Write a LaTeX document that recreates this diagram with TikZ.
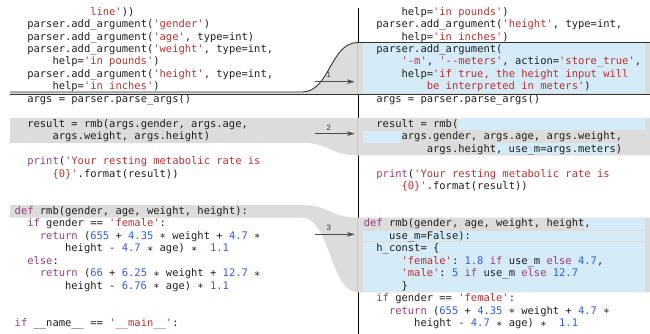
\documentclass[tikz,border=0pt]{standalone}
\usepackage{fontspec}
\setmonofont{DejaVu Sans Mono}
\newfontfamily\labelfont{Liberation Sans}
\usepackage{xcolor}
\usetikzlibrary{arrows.meta}

\definecolor{codeblack}{HTML}{1E1E1E}
\definecolor{kwcolor}{HTML}{9C3B7C}
\definecolor{strcolor}{HTML}{B8312F}
\definecolor{numcolor}{HTML}{2F5CE8}
\definecolor{hunkgrey}{HTML}{DCDCDC}
\definecolor{addblue}{HTML}{D5EBF8}

\newcommand{\kwd}[1]{\textcolor{kwcolor}{#1}}
\newcommand{\strg}[1]{\textcolor{strcolor}{#1}}
\newcommand{\numb}[1]{\textcolor{numcolor}{#1}}
\newcommand{\mulop}{\raisebox{-2.6pt}{*}}

\tikzset{
    codeline/.style={anchor=base west, inner sep=0pt, text=codeblack,
        font=\ttfamily\fontsize{10.47}{12.45}\selectfont},
    numlabel/.style={font=\labelfont\fontsize{7.8}{8}\selectfont, text=black!80, inner sep=3pt},
    diffarrow/.style={draw=black!70, line width=1.4pt, -{Stealth[length=7.5pt,width=4.8pt]}},
    hunk/.style={fill=hunkgrey},
    added/.style={fill=addblue},
    hunkline/.style={draw=black!80, line width=0.9pt}
}

\begin{document}
\begin{tikzpicture}[x=1pt, y=-1pt]
    \useasboundingbox (0,0) rectangle (650,334);

    % divider between old and new
    \draw[black, line width=0.8pt] (358,8) -- (358,334);

    % hunk 1: insertion
    \fill[hunk] (10,92) -- (302,92) .. controls (330,92) and (330,42.5) .. (358,42.5)
        -- (650,42.5) -- (650,94.2) -- (10,94.2) -- cycle;
    \fill[added] (363,43.3) rectangle (645,93.1);
    \draw[hunkline] (10,92) -- (302,92) .. controls (330,92) and (330,42.5) .. (358,42.5) -- (650,42.5);
    \draw[hunkline] (10,94.2) -- (650,94.2);

    % hunk 2
    \fill[hunk] (10,118) -- (650,118) -- (650,155.35) -- (358,155.35)
        .. controls (330,155.35) and (330,142.9) .. (302,142.9) -- (10,142.9) -- cycle;
    \fill[added] (458.1,118.3) rectangle (645,130.2);
    \fill[added] (363,130.9) rectangle (401.4,142.7);
    \fill[added] (495.9,143.3) rectangle (615.6,154.3);

    % hunk 3
    \fill[hunk] (10,205.15) -- (302,205.15) .. controls (330,205.15) and (330,217.6) .. (358,217.6)
        -- (650,217.6) -- (650,292.3) -- (358,292.3)
        .. controls (330,292.3) and (330,217.6) .. (302,217.6) -- (10,217.6) -- cycle;
    \fill[added] (584.1,217.8) rectangle (645,229.6);
    \fill[added] (363,230.6) rectangle (645,241.2);
    \fill[added] (363,242.4) rectangle (645,291.8);

    \draw[black!22, line width=0.8pt] (357.6,43) -- (357.6,93.7);
    \draw[black!22, line width=0.8pt] (357.6,118) -- (357.6,155.35);
    \draw[black!22, line width=0.8pt] (357.6,217.6) -- (357.6,292.3);

    % arrows
    \coordinate (a1s) at (314.5,81.7);
    \coordinate (a1e) at (354.5,81.7);
    \coordinate (a2s) at (314.5,133.7);
    \coordinate (a2e) at (354.5,133.7);
    \coordinate (a3s) at (314.5,234.3);
    \coordinate (a3e) at (354.5,234.3);
    \draw[diffarrow] (a1s) -- node[numlabel, pos=0.36, above] (n1) {1} (a1e);
    \draw[diffarrow] (a2s) -- node[numlabel, pos=0.36, above] (n2) {2} (a2e);
    \draw[diffarrow] (a3s) -- node[numlabel, pos=0.36, above] (n3) {3} (a3e);

    % old code
    \node[codeline] (l0) at (90.1,15.2) {\strg{line'}))};
    \node[codeline] (l1) at (27.1,27.65) {parser.add\_argument(\strg{'gender'})};
    \node[codeline] (l2) at (27.1,40.1) {parser.add\_argument(\strg{'age'}, type=int)};
    \node[codeline] (l3) at (27.1,52.55) {parser.add\_argument(\strg{'weight'}, type=int,};
    \node[codeline] (l4) at (52.3,65.0) {help=\strg{'in pounds'})};
    \node[codeline] (l5) at (27.1,77.45) {parser.add\_argument(\strg{'height'}, type=int,};
    \node[codeline] (l6) at (52.3,89.9) {help=\strg{'in inches'})};
    \node[codeline] (l7) at (27.1,102.35) {args = parser.parse\_args()};
    \node[codeline] (l9) at (27.1,127.25) {result = rmb(args.gender, args.age,};
    \node[codeline] (l10) at (52.3,139.7) {args.weight, args.height)};
    \node[codeline] (l12) at (27.1,164.6) {\kwd{print}(\strg{'Your resting metabolic rate is}};
    \node[codeline] (l13) at (52.3,177.05) {\strg{\{0\}'}.format(result))};
    \node[codeline] (l16) at (14.5,214.4) {\kwd{def} rmb(gender, age, weight, height):};
    \node[codeline] (l17) at (27.1,226.85) {\kwd{if} gender == \strg{'female'}:};
    \node[codeline] (l18) at (39.7,239.3) {\kwd{return} (\numb{655} + \numb{4.35} \mulop{} weight + \numb{4.7} \mulop};
    \node[codeline] (l19) at (64.9,251.75) {height - \numb{4.7} \mulop{} age) \mulop{} ~\numb{1.1}};
    \node[codeline] (l20) at (27.1,264.2) {\kwd{else}:};
    \node[codeline] (l21) at (39.7,276.65) {\kwd{return} (\numb{66} + \numb{6.25} \mulop{} weight + \numb{12.7} \mulop};
    \node[codeline] (l22) at (64.9,289.1) {height - \numb{6.76} \mulop{} age) \mulop{} \numb{1.1}};
    \node[codeline] (l25) at (14.5,326.45) {\kwd{if} \_\_name\_\_ == \strg{'\_\_main\_\_'}:};

    % new code
    \node[codeline] (r0) at (401.4,15.2) {help=\strg{'in pounds'})};
    \node[codeline] (r1) at (376.2,27.65) {parser.add\_argument(\strg{'height'}, type=int,};
    \node[codeline] (r2) at (401.4,40.1) {help=\strg{'in inches'})};
    \node[codeline] (r3) at (376.2,52.55) {parser.add\_argument(};
    \node[codeline] (r4) at (401.4,65.0) {\strg{'-m'}, \strg{'--meters'}, action=\strg{'store\_true'},};
    \node[codeline] (r5) at (401.4,77.45) {help=\strg{'if true, the height input will}};
    \node[codeline] (r6) at (426.6,89.9) {\strg{be interpreted in meters'})};
    \node[codeline] (r7) at (376.2,102.35) {args = parser.parse\_args()};
    \node[codeline] (r9) at (376.2,127.25) {result = rmb(};
    \node[codeline] (r10) at (401.4,139.7) {args.gender, args.age, args.weight,};
    \node[codeline] (r11) at (426.6,152.15) {args.height, use\_m=args.meters)};
    \node[codeline] (r13) at (376.2,177.05) {\kwd{print}(\strg{'Your resting metabolic rate is}};
    \node[codeline] (r14) at (401.4,189.5) {\strg{\{0\}'}.format(result))};
    \node[codeline] (r17) at (363.6,226.85) {\kwd{def} rmb(gender, age, weight, height,};
    \node[codeline] (r18) at (388.8,239.3) {use\_m=False):};
    \node[codeline] (r19) at (376.2,251.75) {h\_const= \{};
    \node[codeline] (r20) at (401.4,264.2) {\strg{'female'}: \numb{1.8} \kwd{if} use\_m \kwd{else} \numb{4.7},};
    \node[codeline] (r21) at (401.4,276.65) {\strg{'male'}: \numb{5} \kwd{if} use\_m \kwd{else} \numb{12.7}};
    \node[codeline] (r22) at (401.4,289.1) {\}};
    \node[codeline] (r23) at (376.2,301.55) {\kwd{if} gender == \strg{'female'}:};
    \node[codeline] (r24) at (388.8,314.0) {\kwd{return} (\numb{655} + \numb{4.35} \mulop{} weight + \numb{4.7} \mulop};
    \node[codeline] (r25) at (414.0,326.45) {height - \numb{4.7} \mulop{} age) \mulop{} ~\numb{1.1}};
\end{tikzpicture}
\end{document}
